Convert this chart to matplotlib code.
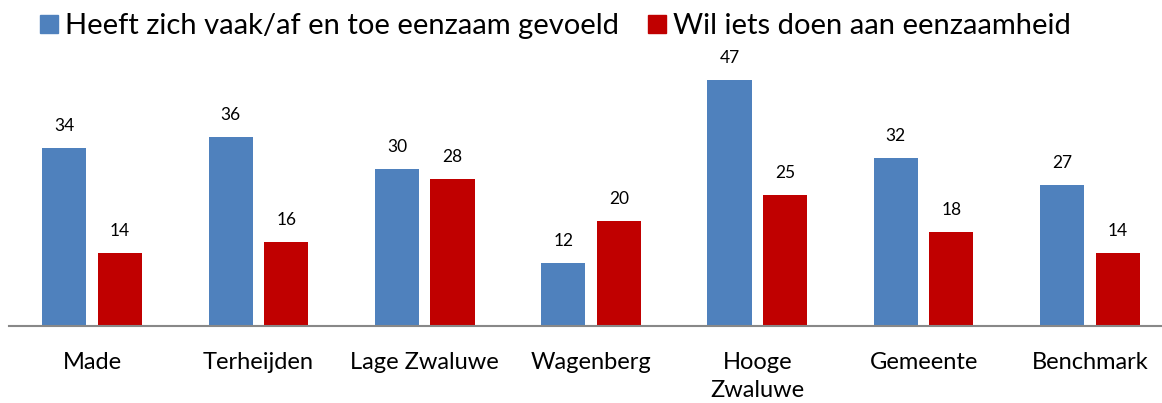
import numpy as np
import matplotlib.pyplot as plt
from matplotlib.patches import Patch

plt.rcParams['font.family'] = ['Lato', 'DejaVu Sans']

categories = ["Made", "Terheijden", "Lage Zwaluwe", "Wagenberg", "Hooge\nZwaluwe", "Gemeente", "Benchmark"]
eenzaam = [34, 36, 30, 12, 47, 32, 27]
iets_doen = [14, 16, 28, 20, 25, 18, 14]
series_names = ["Heeft zich vaak/af en toe eenzaam gevoeld", "Wil iets doen aan eenzaamheid"]

blue = "#4F81BD"
red = "#C00000"

fig = plt.figure(figsize=(11.62, 4.03), dpi=100)
ax = fig.add_axes([9 / 1162, 77 / 403, 1164 / 1162, 262 / 403])

x = np.arange(len(categories))
w = 0.265
off = 0.167
b1 = ax.bar(x - off, eenzaam, w, color=blue)
b2 = ax.bar(x + off, iets_doen, w, color=red)

for bars, vals in ((b1, eenzaam), (b2, iets_doen)):
    for rect, v in zip(bars, vals):
        ax.annotate(str(v), (rect.get_x() + rect.get_width() / 2, v),
                    xytext=(0, 10), textcoords="offset points",
                    ha="center", va="bottom", fontsize=12.5)

ax.set_xlim(-0.5, len(categories) - 0.5)
ax.set_ylim(0, 50)
ax.set_yticks([])
ax.set_xticks(x)
ax.set_xticklabels(categories, fontsize=17, linespacing=1.4, va="top")
ax.tick_params(axis="x", length=0, pad=19)
for s in ("top", "right", "left"):
    ax.spines[s].set_visible(False)
ax.spines["bottom"].set_color("#888888")
ax.spines["bottom"].set_linewidth(1.5)

handles = [Patch(color=blue), Patch(color=red)]
fig.legend(handles, series_names, loc="upper left", bbox_to_anchor=(27 / 1162, 1.0),
           ncol=2, frameon=False, fontsize=21, handlelength=0.6, handleheight=0.6,
           handletextpad=0.25, columnspacing=1.0, borderaxespad=0.05)

fig.savefig("out.png", dpi=100)
